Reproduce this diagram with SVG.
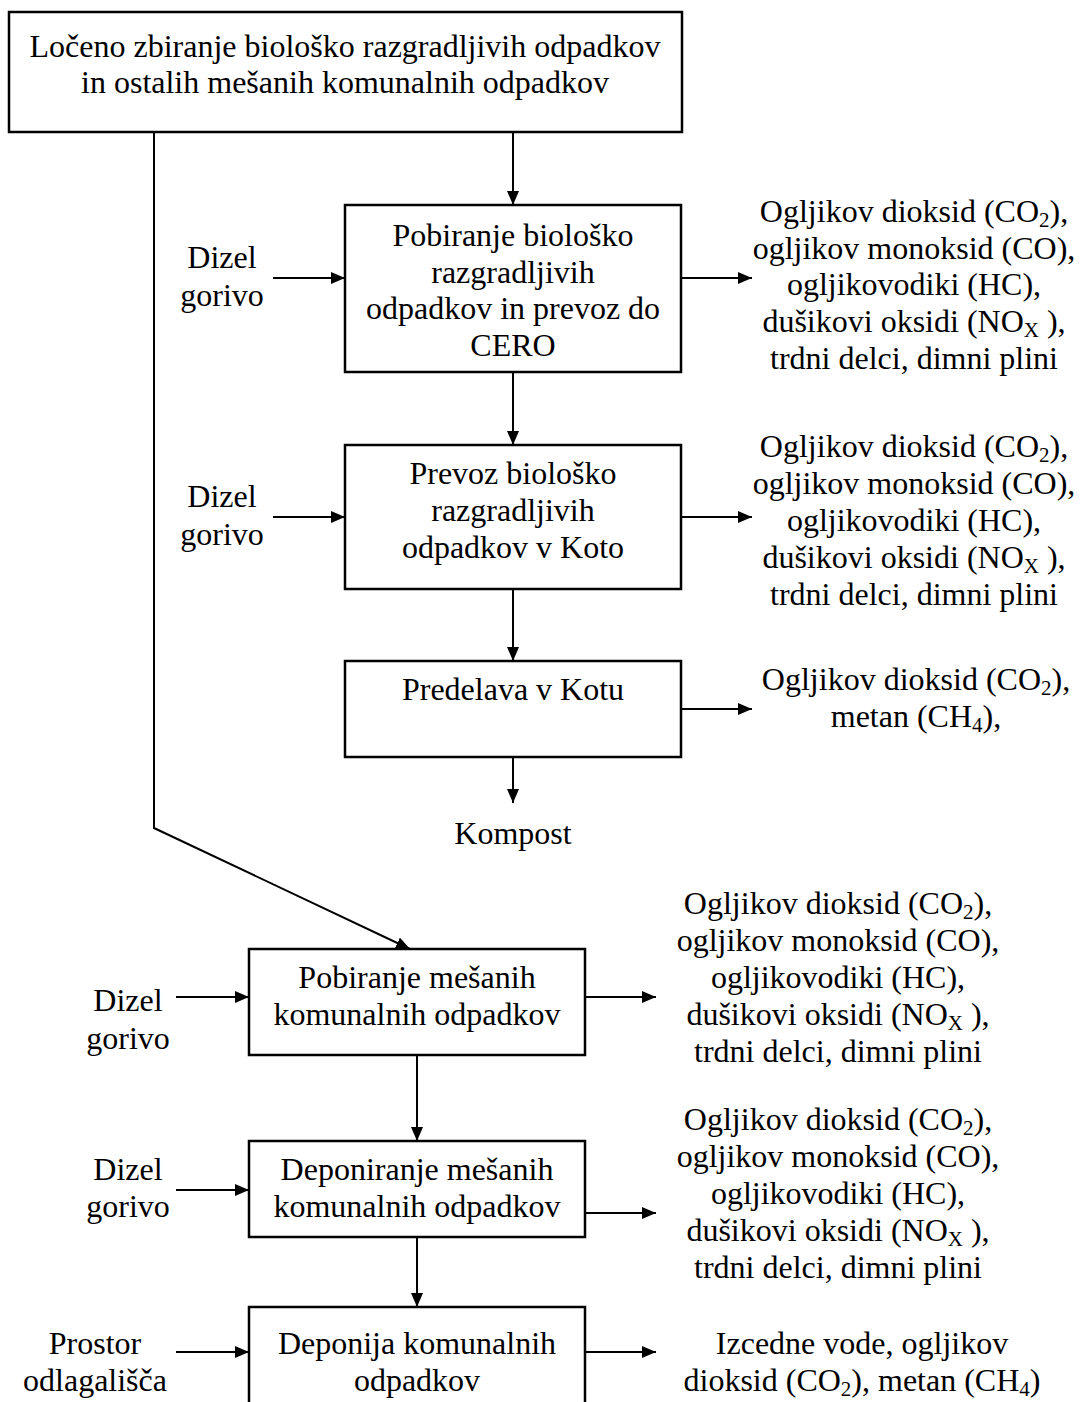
<svg xmlns="http://www.w3.org/2000/svg" width="1085" height="1402" viewBox="0 0 1085 1402">
<style>
text{font-family:"Liberation Serif","Times New Roman",serif;font-size:32px;fill:#000;text-anchor:middle}
.box{fill:#fff;stroke:#000;stroke-width:2.5}
.ln{fill:none;stroke:#000;stroke-width:2}
.sub{font-size:21px}
</style>
<defs>
<marker id="ah" viewBox="0 0 14 12" refX="14" refY="6" markerWidth="14" markerHeight="12" markerUnits="userSpaceOnUse" orient="auto">
<path d="M0,0 L14,6 L0,12 z" fill="#000"/>
</marker>
</defs>
<rect width="1085" height="1402" fill="#fff"/>

<g id="connectors">
<line class="ln" x1="513" y1="132" x2="513" y2="205" marker-end="url(#ah)"/>
<polyline class="ln" points="154,132 154,828 410,949" marker-end="url(#ah)"/>
<line class="ln" x1="273" y1="278" x2="345" y2="278" marker-end="url(#ah)"/>
<line class="ln" x1="681" y1="278" x2="752" y2="278" marker-end="url(#ah)"/>
<line class="ln" x1="513" y1="372" x2="513" y2="445" marker-end="url(#ah)"/>
<line class="ln" x1="273" y1="517" x2="345" y2="517" marker-end="url(#ah)"/>
<line class="ln" x1="681" y1="517" x2="752" y2="517" marker-end="url(#ah)"/>
<line class="ln" x1="513" y1="589" x2="513" y2="661" marker-end="url(#ah)"/>
<line class="ln" x1="681" y1="709" x2="752" y2="709" marker-end="url(#ah)"/>
<line class="ln" x1="513" y1="757" x2="513" y2="803" marker-end="url(#ah)"/>
<line class="ln" x1="176" y1="997" x2="249" y2="997" marker-end="url(#ah)"/>
<line class="ln" x1="585" y1="997" x2="656" y2="997" marker-end="url(#ah)"/>
<line class="ln" x1="417" y1="1055" x2="417" y2="1141" marker-end="url(#ah)"/>
<line class="ln" x1="176" y1="1190" x2="249" y2="1190" marker-end="url(#ah)"/>
<line class="ln" x1="585" y1="1213" x2="656" y2="1213" marker-end="url(#ah)"/>
<line class="ln" x1="417" y1="1237" x2="417" y2="1307" marker-end="url(#ah)"/>
<line class="ln" x1="176" y1="1352" x2="249" y2="1352" marker-end="url(#ah)"/>
<line class="ln" x1="585" y1="1352" x2="656" y2="1352" marker-end="url(#ah)"/>
</g>

<g id="n-zbiranje">
<rect class="box" x="9" y="12" width="673" height="120"/>
<text x="345" y="57">Ločeno zbiranje biološko razgradljivih odpadkov</text>
<text x="345" y="93">in ostalih mešanih komunalnih odpadkov</text>
</g>

<g id="n-pobiranje-bio">
<rect class="box" x="345" y="205" width="336" height="167"/>
<text x="513" y="246">Pobiranje biološko</text>
<text x="513" y="283">razgradljivih</text>
<text x="513" y="319">odpadkov in prevoz do</text>
<text x="513" y="356">CERO</text>
</g>
<g id="n-dizel1">
<text x="222" y="268">Dizel</text>
<text x="222" y="306">gorivo</text>
</g>
<g id="n-emisije1">
<text x="914" y="222">Ogljikov dioksid (CO<tspan class="sub" dy="5">2</tspan><tspan dy="-5">),</tspan></text>
<text x="914" y="259">ogljikov monoksid (CO),</text>
<text x="914" y="295">ogljikovodiki (HC),</text>
<text x="914" y="332">dušikovi oksidi (NO<tspan class="sub" dy="5">X</tspan><tspan dy="-5"> ),</tspan></text>
<text x="914" y="369">trdni delci, dimni plini</text>
</g>

<g id="n-prevoz">
<rect class="box" x="345" y="445" width="336" height="144"/>
<text x="513" y="484">Prevoz biološko</text>
<text x="513" y="521">razgradljivih</text>
<text x="513" y="558">odpadkov v Koto</text>
</g>
<g id="n-dizel2">
<text x="222" y="507">Dizel</text>
<text x="222" y="545">gorivo</text>
</g>
<g id="n-emisije2">
<text x="914" y="457">Ogljikov dioksid (CO<tspan class="sub" dy="5">2</tspan><tspan dy="-5">),</tspan></text>
<text x="914" y="494">ogljikov monoksid (CO),</text>
<text x="914" y="531">ogljikovodiki (HC),</text>
<text x="914" y="568">dušikovi oksidi (NO<tspan class="sub" dy="5">X</tspan><tspan dy="-5"> ),</tspan></text>
<text x="914" y="605">trdni delci, dimni plini</text>
</g>

<g id="n-predelava">
<rect class="box" x="345" y="661" width="336" height="96"/>
<text x="513" y="700">Predelava v Kotu</text>
</g>
<g id="n-emisije3">
<text x="916" y="690">Ogljikov dioksid (CO<tspan class="sub" dy="5">2</tspan><tspan dy="-5">),</tspan></text>
<text x="916" y="727">metan (CH<tspan class="sub" dy="5">4</tspan><tspan dy="-5">),</tspan></text>
</g>
<g id="n-kompost">
<text x="513" y="844">Kompost</text>
</g>

<g id="n-pobiranje-mes">
<rect class="box" x="249" y="949" width="336" height="106"/>
<text x="417" y="988">Pobiranje mešanih</text>
<text x="417" y="1025">komunalnih odpadkov</text>
</g>
<g id="n-dizel3">
<text x="128" y="1011">Dizel</text>
<text x="128" y="1049">gorivo</text>
</g>
<g id="n-emisije4">
<text x="838" y="914">Ogljikov dioksid (CO<tspan class="sub" dy="5">2</tspan><tspan dy="-5">),</tspan></text>
<text x="838" y="951">ogljikov monoksid (CO),</text>
<text x="838" y="988">ogljikovodiki (HC),</text>
<text x="838" y="1025">dušikovi oksidi (NO<tspan class="sub" dy="5">X</tspan><tspan dy="-5"> ),</tspan></text>
<text x="838" y="1062">trdni delci, dimni plini</text>
</g>

<g id="n-deponiranje">
<rect class="box" x="249" y="1141" width="336" height="96"/>
<text x="417" y="1180">Deponiranje mešanih</text>
<text x="417" y="1217">komunalnih odpadkov</text>
</g>
<g id="n-dizel4">
<text x="128" y="1180">Dizel</text>
<text x="128" y="1217">gorivo</text>
</g>
<g id="n-emisije5">
<text x="838" y="1130">Ogljikov dioksid (CO<tspan class="sub" dy="5">2</tspan><tspan dy="-5">),</tspan></text>
<text x="838" y="1167">ogljikov monoksid (CO),</text>
<text x="838" y="1204">ogljikovodiki (HC),</text>
<text x="838" y="1241">dušikovi oksidi (NO<tspan class="sub" dy="5">X</tspan><tspan dy="-5"> ),</tspan></text>
<text x="838" y="1278">trdni delci, dimni plini</text>
</g>

<g id="n-deponija">
<rect class="box" x="249" y="1307" width="336" height="120"/>
<text x="417" y="1354">Deponija komunalnih</text>
<text x="417" y="1391">odpadkov</text>
</g>
<g id="n-prostor">
<text x="95" y="1354">Prostor</text>
<text x="95" y="1391">odlagališča</text>
</g>
<g id="n-izcedne">
<text x="862" y="1354">Izcedne vode, ogljikov</text>
<text x="862" y="1391">dioksid (CO<tspan class="sub" dy="5">2</tspan><tspan dy="-5">), metan (CH</tspan><tspan class="sub" dy="5">4</tspan><tspan dy="-5">)</tspan></text>
</g>
</svg>
